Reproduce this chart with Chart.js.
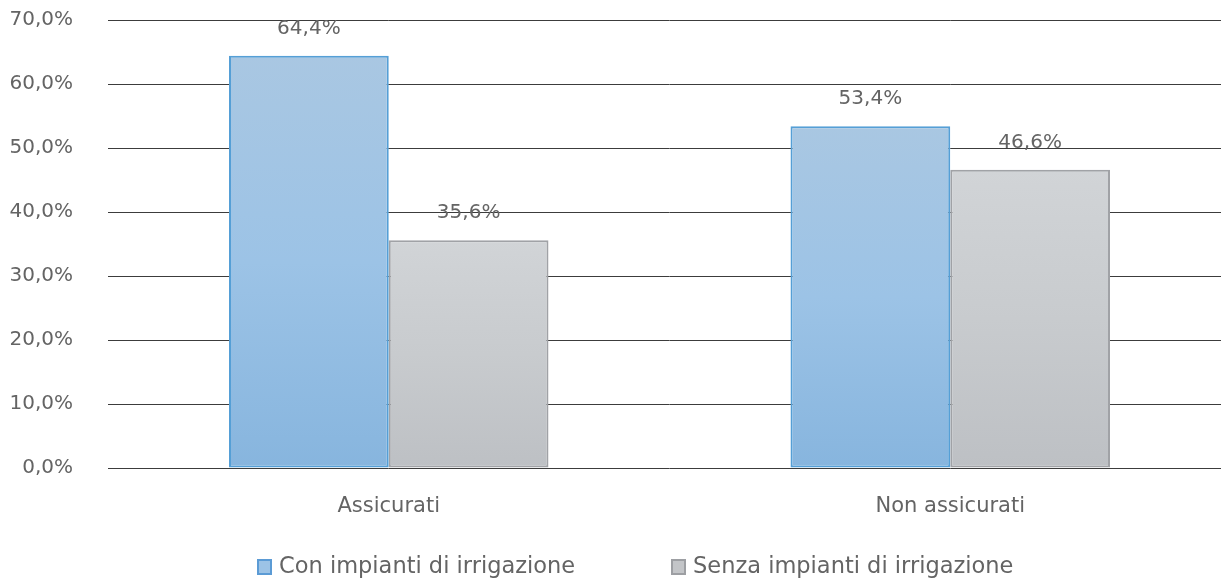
<!DOCTYPE html>
<html><head><meta charset="utf-8">
<script src="https://cdn.jsdelivr.net/npm/chart.js@4.4.0/dist/chart.umd.min.js"></script>
<style>
html,body{margin:0;padding:0;background:#fff;overflow:hidden;}
#wrap{width:1232px;height:578px;position:relative;}
</style></head>
<body>
<div id="wrap"><canvas id="c" width="1232" height="578"></canvas></div>
<script>
const categories = ["Assicurati", "Non assicurati"];
const seriesNames = ["Con impianti di irrigazione", "Senza impianti di irrigazione"];
const conImpianti = [64.4, 53.4];
const senzaImpianti = [35.6, 46.6];
const yTicks = [0, 10, 20, 30, 40, 50, 60, 70];

const FONT = "'DejaVu Sans', sans-serif";
const TXT = "#646464";
const fmt = v => v.toFixed(1).replace('.', ',') + '%';

function grad(ctx, stops) {
  const chart = ctx.chart;
  if (!chart.chartArea) return stops[1];
  const ys = chart.scales.y;
  const top = ys.getPixelForValue(ctx.raw), bot = ys.getPixelForValue(0);
  const g = chart.ctx.createLinearGradient(0, top, 0, bot);
  g.addColorStop(0, stops[0]);
  g.addColorStop(0.5, stops[1]);
  g.addColorStop(1, stops[2]);
  return g;
}

const labelPlugin = {
  id: 'vals',
  afterDatasetsDraw(chart) {
    const c = chart.ctx;
    c.save();
    c.font = "20px " + FONT;
    c.fillStyle = TXT;
    c.textAlign = 'center';
    c.textBaseline = 'middle';
    chart.data.datasets.forEach((ds, i) => {
      chart.getDatasetMeta(i).data.forEach((el, j) => {
        c.fillText(fmt(ds.data[j]), el.x, el.y - 27);
      });
    });
    c.restore();
  }
};

const legendPlugin = {
  id: 'customLegend',
  afterDraw(chart) {
    const c = chart.ctx;
    c.save();
    c.font = "22.5px " + FONT;
    c.textBaseline = 'middle';
    c.textAlign = 'left';
    const items = [
      {x: 258, fill: '#9cc3e6', stroke: '#5b9bd5'},
      {x: 672, fill: '#c3c5c8', stroke: '#9d9fa3'}
    ];
    const y = 567;
    items.forEach((it, i) => {
      c.fillStyle = it.fill;
      c.strokeStyle = it.stroke;
      c.lineWidth = 2;
      c.fillRect(it.x, y - 7, 13, 14);
      c.strokeRect(it.x, y - 7, 13, 14);
      c.fillStyle = TXT;
      c.fillText(seriesNames[i], it.x + 21, y);
    });
    c.restore();
  }
};

new Chart(document.getElementById('c'), {
  type: 'bar',
  data: {
    labels: categories,
    datasets: [
      {
        label: seriesNames[0],
        data: conImpianti,
        backgroundColor: ctx => grad(ctx, ['#a9c7e2', '#9cc3e6', '#87b5de']),
        borderColor: '#559fd6',
        borderWidth: 2,
        borderSkipped: false
      },
      {
        label: seriesNames[1],
        data: senzaImpianti,
        backgroundColor: ctx => grad(ctx, ['#d1d4d7', '#c8cbce', '#bdc0c4']),
        borderColor: '#a0a2a6',
        borderWidth: 2,
        borderSkipped: false
      }
    ]
  },
  options: {
    responsive: false,
    animation: false,
    layout: {padding: {top: 20, left: 0, right: 1, bottom: 40.8}},
    datasets: {bar: {barPercentage: 1, categoryPercentage: 0.569}},
    plugins: {legend: {display: false}, tooltip: {enabled: false}},
    scales: {
      x: {
        grid: {display: false},
        border: {display: false},
        ticks: {color: TXT, font: {family: FONT, size: 21}, padding: 18},
        afterFit: s => { s.paddingLeft = 0; s.paddingRight = 0; }
      },
      y: {
        min: 0, max: 70,
        afterBuildTicks: axis => { axis.ticks = yTicks.map(v => ({value: v})); },
        afterFit: s => { s.width = 108; s.paddingTop = 0; s.paddingBottom = 0; },
        grid: {color: '#3c3c3c', lineWidth: 1, drawTicks: false},
        border: {display: false},
        ticks: {color: TXT, font: {family: FONT, size: 20}, padding: 35, callback: v => fmt(v)}
      }
    }
  },
  plugins: [labelPlugin, legendPlugin]
});
</script>
</body></html>
